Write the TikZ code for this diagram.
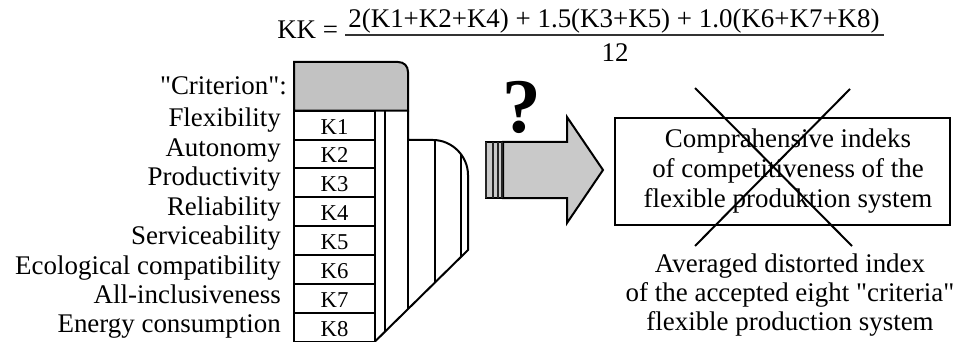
\documentclass[tikz,border=0pt]{standalone}
\usepackage{fontspec}
\setmainfont{Liberation Serif}
\definecolor{boxgray}{gray}{0.76}
\definecolor{arrowgray}{gray}{0.79}
\begin{document}
\begin{tikzpicture}[x=0.75pt,y=-0.75pt,
  lbl/.style={font=\fontsize{20.2}{22.5}\selectfont, inner sep=0pt},
  klbl/.style={font=\fontsize{17}{19}\selectfont, draw, line width=1.5pt,
     minimum width=60.75pt, minimum height=21.64pt, inner sep=0pt,
     text height=13.5pt, text depth=0pt},
  thickline/.style={line width=1.5pt},
  thinline/.style={line width=0.8pt}]
\useasboundingbox (0,0) rectangle (956,342);

% formula
\node[lbl, anchor=base] (num) at (614,28) {2(K1+K2+K4) + 1.5(K3+K5) + 1.0(K6+K7+K8)};
\node[lbl, anchor=base] (den) at (615,62) {12};
\node[lbl, anchor=base west] (kk) at (277,39) {KK =};
\draw[line width=1.1pt, black!80] (345,35) -- (884,35);

% gray header box
\draw[thickline, fill=boxgray] (294,110.7) -- (294,62) -- (398,62)
  .. controls (404,62) and (408,66) .. (408,72) -- (408,110.7) -- cycle;

% right hand body of the "table"
\begin{scope}
\clip (375,110.7) -- (408,110.7) -- (408,140) -- (433,140)
  .. controls (452,140) and (468,156) .. (468,175) -- (468,250) -- (375,341.5) -- cycle;
\foreach \x in {385,408,435,461} \draw[thinline] (\x,100) -- (\x,350);
\end{scope}
\draw[thickline] (408,110.7) -- (408,140) -- (433,140)
  .. controls (452,140) and (468,156) .. (468,175) -- (468,250) -- (375,341.5);

% K cells
\foreach \i in {1,...,8}
  \node[klbl] (k\i) at (334.5,{110.7+28.85*(\i-0.5)}) {K\i};

% criteria labels
\node[lbl, anchor=base east] (crit) at (287,95) {\textquotedbl Criterion\textquotedbl:};
\foreach \t [count=\i] in {Flexibility,Autonomy,Productivity,Reliability,Serviceability,Ecological compatibility,All-inclusiveness,Energy consumption}
  \node[lbl, anchor=base east] (l\i) at (281,{127+29.4*(\i-1)}) {\t};

% question mark
\node[font=\fontsize{58}{64}\selectfont\bfseries, anchor=base, inner sep=0pt] (q) at (522,133) {?};

% big arrow
\draw[thickline, fill=arrowgray] (503,142) -- (567,142) -- (567,117) -- (603,170)
  -- (567,223) -- (567,198) -- (503,198) -- cycle;
\fill[arrowgray] (485,142) rectangle (503,198);
\draw[thickline] (485,142) -- (503,142) (485,198) -- (503,198);
\foreach \x in {486,493,498,502} \draw[thickline, black!85] (\x,142) -- (\x,198);

% result box
\node[draw, thickline, minimum width=251.25pt, minimum height=80.25pt, inner sep=0pt] (box) at (782.5,171.5) {};
\node[lbl, align=center] (boxtxt) at (788,170.7)
  {Comprahensive indeks\\of competitiveness of the\\flexible produktion system};
\draw[thickline] (695,88) -- (852,246);
\draw[thickline] (850,89) -- (695,246);

\node[lbl, align=center, font=\fontsize{20.2}{21.8}\selectfont] (avg) at (790,294.8)
  {Averaged distorted index\\of the accepted eight \textquotedbl criteria\textquotedbl\\flexible production system};
\end{tikzpicture}
\end{document}
